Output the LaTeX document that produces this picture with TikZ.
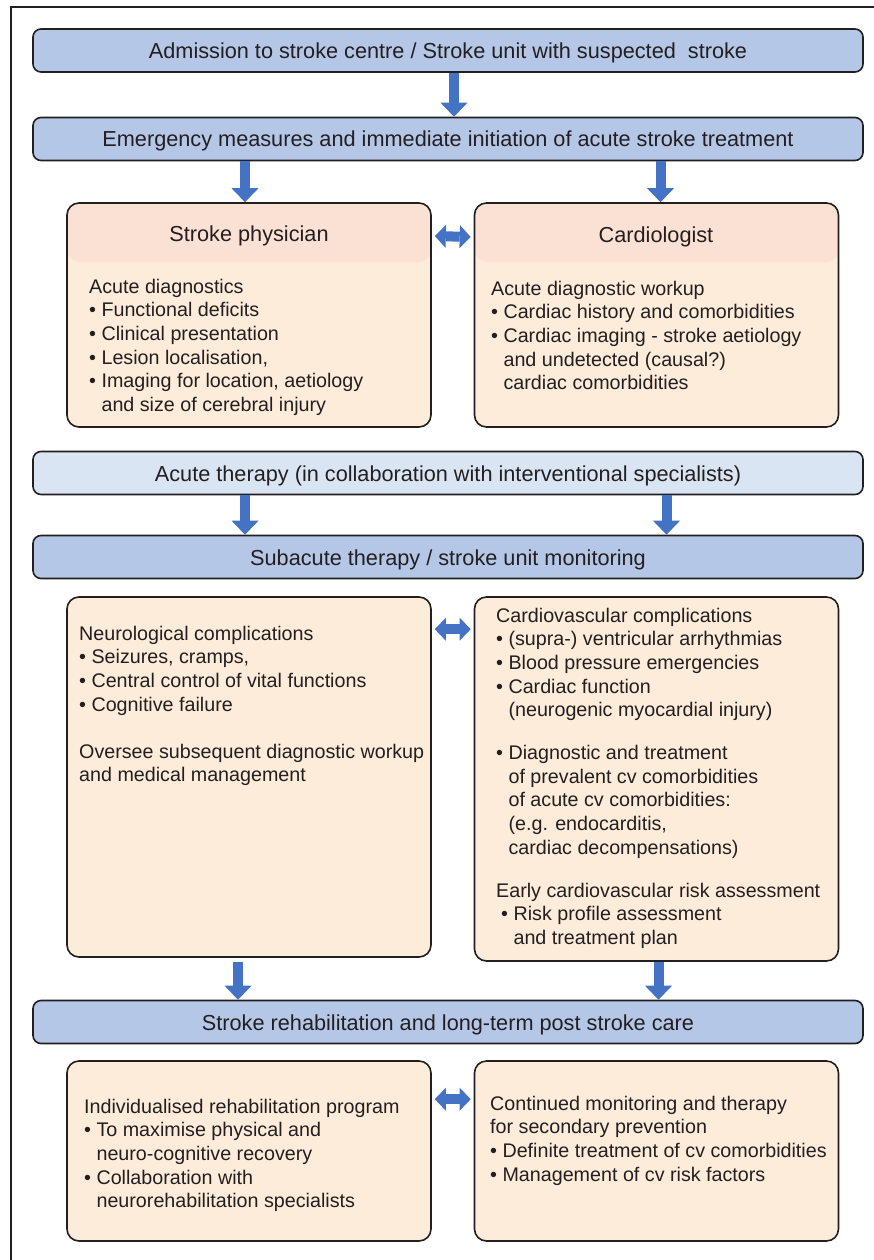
\documentclass[tikz,border=0pt]{standalone}
\usepackage{fontspec}
\setmainfont{Liberation Sans}
\usetikzlibrary{positioning}
\usetikzlibrary{arrows.meta}
\definecolor{bannerblue}{HTML}{B4C7E7}
\definecolor{paleblue}{HTML}{DAE5F4}
\definecolor{headpink}{HTML}{FBE1D4}
\definecolor{bodypeach}{HTML}{FDECDA}
\definecolor{arrowblue}{HTML}{4472C4}
\definecolor{inkgray}{HTML}{231F20}
\newcommand{\bodysize}{\fontsize{19.7}{23.6}\selectfont}
\newcommand{\headsize}{\fontsize{21.7}{26}\selectfont}
\newcommand{\bul}{\textbullet\ }
\newcommand{\ind}{\phantom{\textbullet\ }}
\tikzset{
  banner/.style={draw=inkgray, line width=1.6pt, rounded corners=8pt, fill=bannerblue,
    minimum width=830pt, minimum height=43pt, inner sep=0pt, text height=16pt, text depth=0pt,
    font=\headsize, text=inkgray},
  sidebox/.style={draw=inkgray, line width=1.6pt, rounded corners=12pt, fill=bodypeach,
    minimum width=364pt, inner sep=0pt},
  headbox/.style={sidebox, path picture={\fill[headpink] (path picture bounding box.north west)
    rectangle ([yshift=-59pt]path picture bounding box.north east);}},
  bodytext/.style={anchor=north west, inner sep=0pt, align=left, font=\bodysize, text=inkgray},
  headtext/.style={inner sep=0pt, font=\headsize, text=inkgray},
  downarrow/.style={arrowblue, line width=10pt, -{Triangle[width=27pt,length=14pt,line width=0pt]}},
  sidearrow/.style={arrowblue, line width=10pt,
    {Triangle[width=23pt,length=11pt,line width=0pt]}-{Triangle[width=23pt,length=11pt,line width=0pt]}}
}
\begin{document}
\begin{tikzpicture}[x=1pt,y=-1pt]
\useasboundingbox (0,0) rectangle (874,1260);
\draw[inkgray, line width=2pt] (11,1270) -- (11,7) -- (890,7);
% banners
\node[banner] (adm) at (448,50.5) {Admission to stroke centre / Stroke unit with suspected\ \ stroke};
\node[banner] (emer) at (448,139) {Emergency measures and immediate initiation of acute stroke treatment};
\node[banner, fill=paleblue] (acute) at (448,473) {Acute therapy (in collaboration with interventional specialists)};
\node[banner] (sub) at (448,557) {Subacute therapy / stroke unit monitoring};
\node[banner] (rehab) at (448,1022) {Stroke rehabilitation and long-term post stroke care};
% acute phase
\node[headbox, minimum height=224pt] (sp) at (249,315) {};
\node[headbox, minimum height=224pt] (card) at (656.5,315) {};
\node[headtext] (sphead) at (249,236) {Stroke physician};
\node[headtext] (cardhead) at (656,237) {Cardiologist};
\node[bodytext] (sptext) at (89,276.5) {\strut Acute diagnostics\\
  \bul Functional deficits\\
  \bul Clinical presentation\\
  \bul Lesion localisation,\\
  \bul Imaging for location, aetiology\\
  \ind and size of cerebral injury};
\node[bodytext] (cardtext) at (491,278.5) {\strut Acute diagnostic workup\\
  \bul Cardiac history and comorbidities\\
  \bul Cardiac imaging - stroke aetiology\\
  \ind and undetected (causal?)\\
  \ind cardiac comorbidities};
% subacute phase
\node[sidebox, minimum height=360pt] (neuro) at (249,777) {};
\node[sidebox, minimum height=364pt] (cvc) at (656.5,779) {};
\node[bodytext] (neurotext) at (79,623.5) {\strut Neurological complications\\
  \bul Seizures, cramps,\\
  \bul Central control of vital functions\\
  \bul Cognitive failure\\[23.6pt]
  Oversee subsequent diagnostic workup\\
  and medical management};
\node[bodytext] (cvctext) at (496,605.5) {\strut Cardiovascular complications\\
  \bul (supra-) ventricular arrhythmias\\
  \bul Blood pressure emergencies\\
  \bul Cardiac function\\
  \ind (neurogenic myocardial injury)\\[19.5pt]
  \bul Diagnostic and treatment\\
  \ind of prevalent cv comorbidities\\
  \ind of acute cv comorbidities:\\
  \ind (e.g. endocarditis,\\
  \ind cardiac decompensations)\\[19.5pt]
  Early cardiovascular risk assessment\\
  \hspace*{5pt}\bul Risk profile assessment\\
  \hspace*{5pt}\ind and treatment plan};
% long-term care
\node[sidebox, minimum height=180pt] (rehabl) at (249,1151) {};
\node[sidebox, minimum height=180pt] (prev) at (656.5,1151) {};
\node[bodytext] (rehabtext) at (84,1096.5) {\strut Individualised rehabilitation program\\
  \bul To maximise physical and\\
  \ind neuro-cognitive recovery\\
  \bul Collaboration with\\
  \ind neurorehabilitation specialists};
\node[bodytext] (prevtext) at (490,1093.5) {\strut Continued monitoring and therapy\\
  for secondary prevention\\
  \bul Definite treatment of cv comorbidities\\
  \bul Management of cv risk factors};
% arrows
\draw[downarrow] ([xshift=6pt]adm.south) -- ([xshift=6pt]emer.north);
\draw[downarrow] ([xshift=-4pt]emer.south -| sp.north) -- ([xshift=-4pt]sp.north);
\draw[downarrow] ([xshift=4pt]emer.south -| card.north) -- ([xshift=4pt]card.north);
\draw[downarrow] ([xshift=-4pt]acute.south -| sp.north) -- ([xshift=-4pt]sub.north -| sp.north);
\draw[downarrow] ([xshift=10pt]acute.south -| card.north) -- ([xshift=10pt]sub.north -| card.north);
\draw[downarrow] ([xshift=-11pt]neuro.south |- cvc.south) -- ([xshift=-11pt]rehab.north -| neuro.south);
\draw[downarrow] ([xshift=2pt]cvc.south) -- ([xshift=2pt]rehab.north -| cvc.south);
\draw[sidearrow] ([xshift=3pt]sp.east |- sphead) -- ([xshift=-3pt]card.west |- cardhead);
\draw[sidearrow] ([xshift=3pt,yshift=-33pt]neuro.north east) -- ([xshift=-3pt,yshift=-33pt]neuro.north east -| cvc.west);
\draw[sidearrow] ([xshift=3pt,yshift=-39pt]rehabl.north east) -- ([xshift=-3pt,yshift=-39pt]rehabl.north east -| prev.west);
\end{tikzpicture}
\end{document}
